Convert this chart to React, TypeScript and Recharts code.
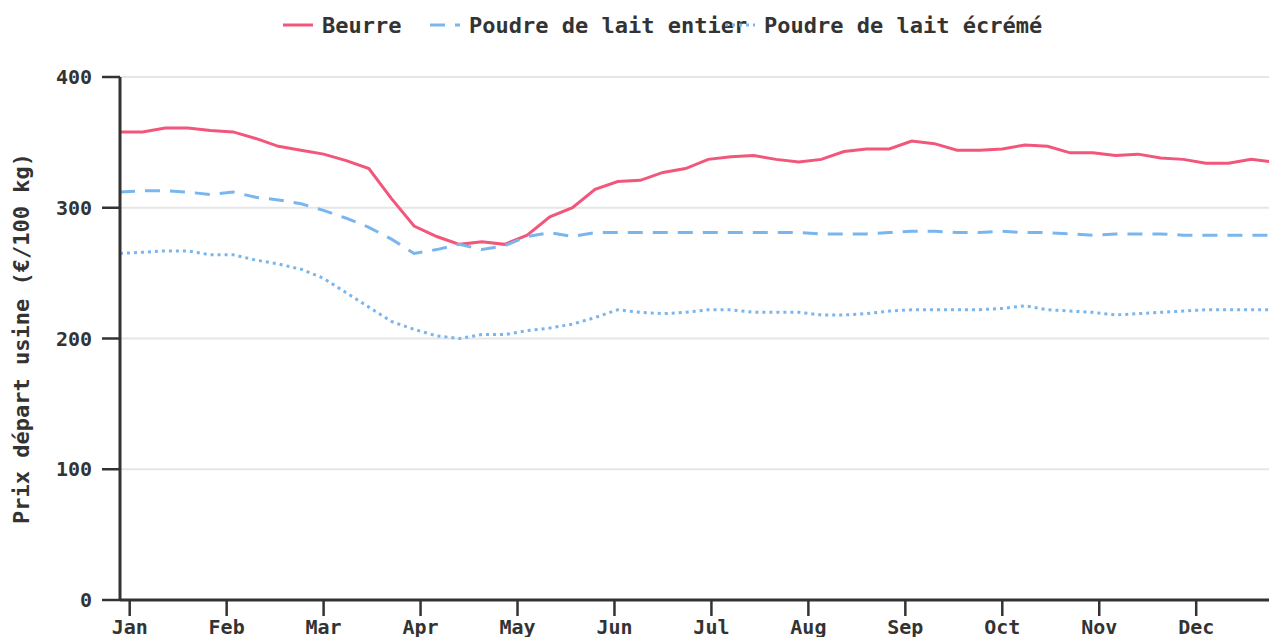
import React from 'react'
import { LineChart, Line, XAxis, YAxis, CartesianGrid } from 'recharts'

const FONT = '"DejaVu Sans Mono", monospace'
const TEXT = '#333333'

// weekly points (week number of the year)
const weeks = [
  1, 2, 3, 4, 5, 6, 7, 8, 9, 10, 11, 12, 13, 14, 15, 16, 17, 18, 19, 20, 21, 22, 23, 24, 25, 26,
  27, 28, 29, 30, 31, 32, 33, 34, 35, 36, 37, 38, 39, 40, 41, 42, 43, 44, 45, 46, 47, 48, 49, 50, 51, 52,
]

const beurre = [
  358, 358, 361, 361, 359, 358, 353, 347, 344, 341, 336, 330, 307, 286, 278, 272, 274, 272, 279, 293, 300, 314, 320, 321, 327, 330,
  337, 339, 340, 337, 335, 337, 343, 345, 345, 351, 349, 344, 344, 345, 348, 347, 342, 342, 340, 341, 338, 337, 334, 334, 337, 335,
]

const laitEntier = [
  312, 313, 313, 312, 310, 312, 308, 306, 303, 298, 292, 285, 276, 265, 268, 272, 268, 271, 278, 281, 278, 281, 281, 281, 281, 281,
  281, 281, 281, 281, 281, 280, 280, 280, 281, 282, 282, 281, 281, 282, 281, 281, 280, 279, 280, 280, 280, 279, 279, 279, 279, 279,
]

const laitEcreme = [
  265, 266, 267, 267, 264, 264, 260, 257, 253, 246, 235, 224, 213, 207, 202, 200, 203, 203, 206, 208, 211, 216, 222, 220, 219, 220,
  222, 222, 220, 220, 220, 218, 218, 219, 221, 222, 222, 222, 222, 223, 225, 222, 221, 220, 218, 219, 220, 221, 222, 222, 222, 222,
]

const monthLabels = ['Jan', 'Feb', 'Mar', 'Apr', 'May', 'Jun', 'Jul', 'Aug', 'Sep', 'Oct', 'Nov', 'Dec']
const yTicks = [0, 100, 200, 300, 400]

const series = [
  { key: 'beurre', name: 'Beurre', color: '#f2567b', dash: undefined as string | undefined },
  { key: 'entier', name: 'Poudre de lait entier', color: '#7ab6ee', dash: '15 10' },
  { key: 'ecreme', name: 'Poudre de lait écrémé', color: '#7ab6ee', dash: '3 4' },
]

// legend item offsets (the source legend overlaps its last two items)
const legendLeft = [275, 422, 717]

const data = weeks.map((w, i) => ({
  day: (w - 1) * 7,
  beurre: beurre[i],
  entier: laitEntier[i],
  ecreme: laitEcreme[i],
}))

const monthTicks = monthLabels.map((_, i) => 3 + i * 30)

const tickStyle = { fill: TEXT, fontSize: 20, fontWeight: 'bold', fontFamily: FONT }

export default function App() {
  return (
    <div style={{ position: 'relative', width: 1269, height: 629, overflow: 'hidden', background: '#fff' }}>
      <div style={{ position: 'absolute', top: 0, left: 0, width: '100%', height: 34, fontFamily: FONT, fontWeight: 'bold', fontSize: 22, color: TEXT }}>
        {series.map((s, i) => (
          <div key={s.key} style={{ position: 'absolute', left: legendLeft[i], top: 0, height: 34, display: 'flex', alignItems: 'center', whiteSpace: 'nowrap' }}>
            <svg width={30} height={10} style={{ display: 'block' }}>
              <line x1={0} y1={5} x2={30} y2={5} stroke={s.color} strokeWidth={3} strokeDasharray={s.dash} />
            </svg>
            <span style={{ marginLeft: 9 }}>{s.name}</span>
          </div>
        ))}
      </div>
      <LineChart width={1269} height={660} data={data} margin={{ top: 69, right: 0, bottom: 18, left: 0 }}>
        <CartesianGrid vertical={false} stroke="#e6e6e6" strokeWidth={2} />
        <XAxis
          type="number"
          dataKey="day"
          domain={[0, 358]}
          ticks={monthTicks}
          interval={0}
          tickFormatter={(_v: number, i: number) => monthLabels[i]}
          tick={tickStyle}
          tickSize={16}
          tickMargin={4}
          height={50}
          axisLine={{ stroke: TEXT, strokeWidth: 3 }}
          tickLine={{ stroke: TEXT, strokeWidth: 2.5 }}
        />
        <YAxis
          domain={[0, 400]}
          ticks={yTicks}
          width={112}
          tick={tickStyle}
          tickSize={18}
          tickMargin={10}
          axisLine={{ stroke: TEXT, strokeWidth: 3 }}
          tickLine={{ stroke: TEXT, strokeWidth: 2.5 }}
          label={{
            value: 'Prix départ usine (€/100 kg)',
            angle: -90,
            position: 'insideLeft',
            offset: 13,
            style: { textAnchor: 'middle', fill: TEXT, fontSize: 22, fontWeight: 'bold', fontFamily: FONT },
          }}
        />
        {series.map((s) => (
          <Line
            key={s.key}
            type="linear"
            dataKey={s.key}
            name={s.name}
            stroke={s.color}
            strokeWidth={3}
            strokeDasharray={s.dash}
            dot={false}
            activeDot={false}
            isAnimationActive={false}
          />
        ))}
      </LineChart>
    </div>
  )
}
